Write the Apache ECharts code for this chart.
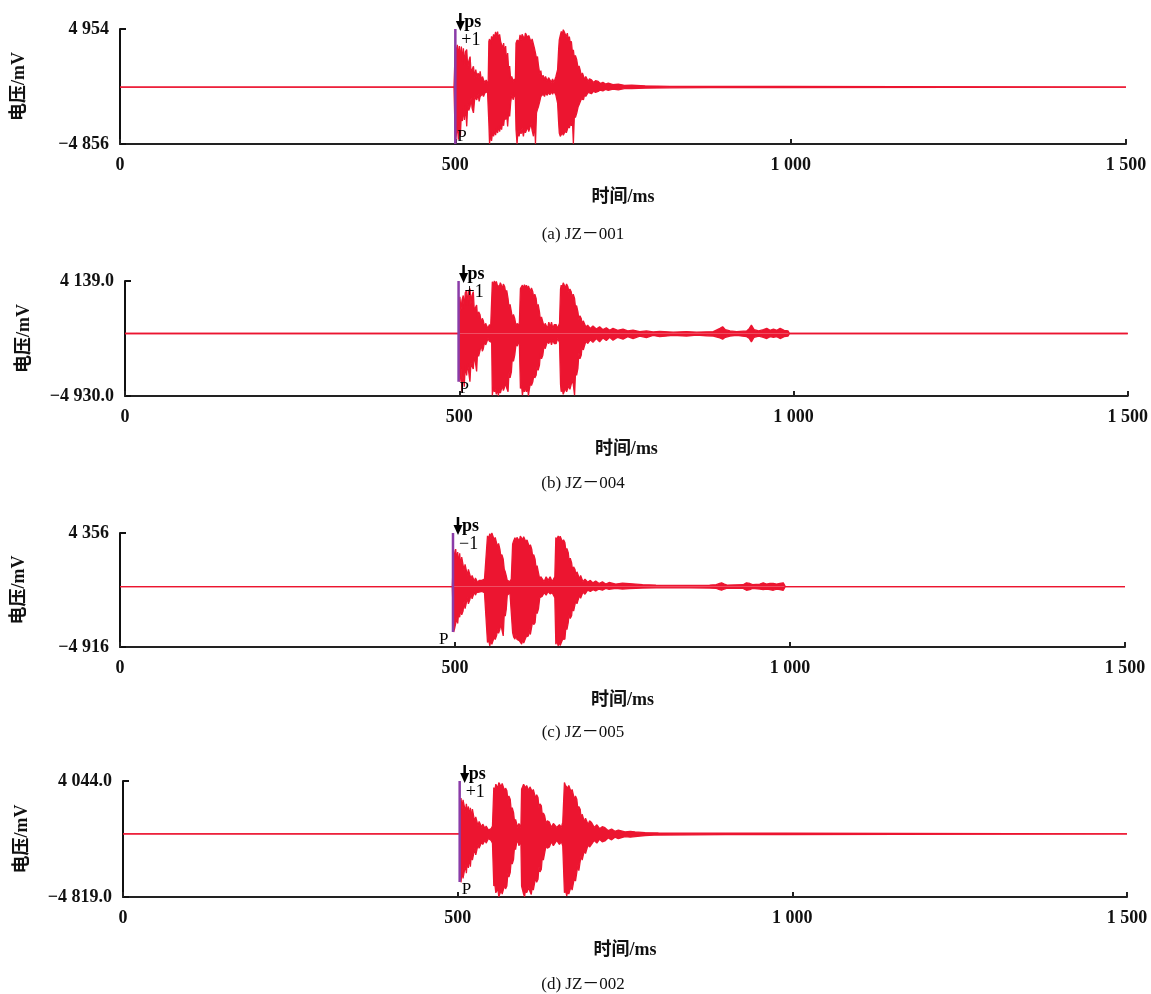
<!DOCTYPE html>
<html><head><meta charset="utf-8">
<script src="https://cdn.jsdelivr.net/npm/echarts@6/dist/echarts.min.js"></script>
<style>html,body{margin:0;padding:0;background:#fff}#c{width:1151px;height:994px}</style>
</head><body><div id="c"></div>
<script>
// ---------- data ----------
const captions = ['(a) JZ－001', '(b) JZ－004', '(c) JZ－005', '(d) JZ－002'];
const yMaxs = [4954, 4139.0, 4356, 4044.0];
const yMins = [-4856, -4930.0, -4916, -4819.0];
const yDecimals = [0, 1, 0, 1];
const pTimes = [500, 499, 497, 503];          // P arrival (ms)
const pLows = [-4856, -3800, -3700, -3670];   // lower end of the P marker (mV)
const psMarks = ['+1', '+1', '−1', '+1'];

// waveform envelopes, rows: [time ms, upper mV, lower mV]
const waveA = [
[0,0,0],[498,0,0],[499.5,0,0],[500,3600,-4830],[501.5,2800,-4830],[503,3600,-3200],[504.5,2600,-4500],[506,3500,-2600],
[507.5,2400,-4200],[509,3450,-2200],[510.5,2200,-2900],[512,3300,-1800],[513.5,1900,-2800],[515,3000,-1600],[517,3200,-3350],
[518.5,1600,-1400],[520,2200,-2000],[522,2600,-1650],[523.5,1200,-900],[525,1500,-1800],[527,1770,-2200],[529,800,-900],
[530.5,1500,-1000],[532,900,-1080],[534,1200,-600],[535.5,700,-1220],[537,1340,-800],[539,500,-700],[540.5,900,-600],
[542,620,-800],[544,400,-500],[546,600,-650],[548,300,-400],[549,500,-500],
[550,3890,-3070],[551,4100,-4830],[552.5,3600,-4000],[554,4320,-4600],[555.5,4000,-3800],[557,4500,-4200],[558.5,4200,-3700],
[560,4700,-4100],[561.5,4300,-3500],[563,4740,-3920],[564.5,4100,-3300],[566,4500,-3800],[567.5,3900,-3300],[569,4030,-3630],
[570.5,3300,-2900],[572,3750,-3300],[573.5,2900,-2500],[575,3500,-2780],[576.5,2000,-2200],[578,2900,-3350],[579.5,1500,-2000],
[581,1800,-2500],[582.5,620,-1360],[584,900,-700],[586.5,480,-1080],[588,700,-500],[589.5,500,-900],
[590.5,3750,-3630],[592,4000,-4830],[593.5,4170,-3700],[595,3900,-4200],[596.5,4460,-3630],[598,4000,-4000],[599.5,4500,-3500],
[601.5,4460,-4200],[603,4100,-3600],[604.5,4600,-3900],[606.5,4600,-3920],[608,4200,-3400],[609.5,4400,-3800],[611.5,4320,-3630],
[613,3800,-3100],[614.5,4100,-3700],[616.5,4030,-4200],[618,3300,-2800],[619.5,2900,-4830],[621,2400,-2200],[622.5,2600,-1900],
[624,1800,-1650],[626,1100,-1200],[627.5,1400,-800],[629,770,-940],[631,1000,-600],[633,600,-800],[634.5,910,-500],[637,500,-700],
[639,800,-450],[641,620,-650],[643,400,-400],[645,700,-600],[647,400,-350],[648.5,480,-510],[650,900,-700],[652.5,1480,-1360],
[654,3200,-3000],[655,4030,-3920],[656.5,4400,-4200],[658,4740,-4350],[659.5,4500,-3900],[661,4900,-4100],[662.5,4700,-3920],
[664,4800,-3700],[665.5,4300,-3900],[667,4600,-3630],[668.5,4000,-3300],[670,4300,-3500],[671.5,3700,-3070],[673,3900,-3300],
[674.5,3000,-2700],[676,3180,-4830],[677.5,2400,-2400],[679,2700,-2600],[681,2330,-2220],[683,1600,-1700],[684.5,1800,-1500],
[686,1480,-1360],[688,900,-1000],[689.5,1200,-1100],[691,1050,-1080],[693,600,-600],[694.5,900,-800],[696,770,-650],[698,500,-450],
[700,700,-600],[703,620,-570],[706,400,-350],[709,550,-450],[713,480,-370],[716,300,-250],[720,400,-320],[724,250,-200],
[728,340,-280],[735,200,-180],[743,260,-230],[752,150,-130],[763,170,-140],[783,110,-90],[820,60,-60],[880,50,-50],[940,50,-50],
[988,60,-50],[990,0,0],[1500,0,0]
];
const waveB = [
[0,0,0],[499,0,0],[500,0,0],[501,2900,-3800],[502.5,1800,-2600],[504,2600,-4600],[506,3000,-3000],[507.5,2000,-4200],[509,3200,-2500],
[511,3400,-3300],[512.5,2200,-2400],[514,3300,-3000],[516,3550,-3800],[517.5,2300,-2300],[519,3000,-2600],[521,3300,-2800],
[522.5,1800,-1800],[524,2000,-2200],[526,2240,-3000],[527.5,1200,-1300],[529,1700,-1800],[531,1500,-1700],[533,800,-900],
[534.5,1200,-1400],[536,1000,-1200],[538,500,-600],[539.5,800,-900],[541,600,-700],[543,400,-400],[545,700,-600],[547,500,-500],
[548.5,600,-700],
[549.5,4080,-4870],[551,3800,-4200],[552.5,4139,-4600],[554,3900,-4400],[555.5,4100,-4800],[557,3800,-4300],[558.5,3950,-4900],
[560,3700,-4400],[561.5,4000,-4700],[563,3810,-4600],[564.5,3500,-4100],[566,3900,-4500],[568,3680,-4210],[569.5,3200,-3900],
[571,3400,-4300],[573,2760,-4600],[574.5,2000,-3000],[576,2300,-3500],[578,1710,-3020],[579.5,1100,-1800],[581,1500,-2200],
[583,1180,-1710],[585,600,-800],[587,800,-1000],[588.5,500,-600],[590,900,-900],
[591.5,3550,-4340],[593,3700,-4000],[594.5,3810,-4870],[596,3500,-4300],[597.5,3850,-4600],[599,3600,-4200],[600.5,3810,-4600],
[602,3500,-4200],[603.5,3750,-4900],[605,3680,-4340],[606.5,3300,-3900],[608,3600,-4100],[610,3290,-3810],[611.5,2800,-3300],
[613,3100,-3500],[615,2760,-3290],[616.5,2000,-2500],[618,2300,-2900],[620,1710,-2500],[621.5,1000,-1500],[623,1300,-2000],
[625,920,-1710],[627,500,-900],[628.5,800,-1200],[630,660,-1180],[632,400,-600],[634,900,-800],[636,500,-500],[638,900,-900],
[640,400,-500],[642,700,-800],[645,700,-800],[647,400,-400],[650,800,-700],
[651.5,3500,-4000],[652.5,3810,-4600],[654,3600,-4300],[655.5,4000,-4800],[657.5,3950,-4730],[659,3600,-4300],[660.5,3900,-4600],
[662.5,3680,-4600],[664,3300,-4100],[665.5,3500,-4400],[667.5,3290,-4340],[669,2800,-3700],[670.5,3100,-4000],[672.5,2760,-4870],
[674,2000,-3000],[675.5,2200,-3300],[677.5,1710,-2760],[679,1100,-1500],[680.5,1400,-2000],[682.5,1180,-1710],[684,700,-900],
[685.5,1000,-1300],[687.5,920,-1180],[689.5,500,-600],[692,660,-790],[696,400,-500],[700,600,-700],[705,350,-400],[710,530,-660],
[715,300,-350],[720,450,-550],[725,250,-300],[730,400,-530],[737,250,-300],[745,350,-450],[752,200,-250],[760,260,-400],
[770,150,-200],[780,200,-320],[790,120,-150],[800,170,-250],[820,100,-150],[840,150,-200],[855,100,-120],[870,130,-180],
[880,150,-200],[890,400,-350],[894,530,-450],[898,300,-300],[905,200,-200],[915,150,-150],[930,200,-250],[934,400,-400],
[937,660,-660],[941,300,-300],[948,200,-200],[955,300,-300],[960,400,-400],[965,250,-250],[970,350,-300],[975,250,-250],
[980,400,-400],[986,250,-250],[992,200,-200],[994,0,0],[1500,0,0]
];
const waveC = [
[0,0,0],[496,0,0],[497,0,0],[498,3000,-3700],[499.5,2200,-3400],[501,3050,-3300],[502.5,2200,-2600],[504,2800,-3000],
[505.5,1800,-2100],[507,2700,-2500],[508.5,1600,-1800],[510,2400,-2300],[512,2400,-2000],[513.5,1300,-1200],[515,1800,-1800],
[517,1700,-1300],[518.5,900,-900],[520,1400,-1400],[522,1400,-1100],[524,600,-600],[525.5,900,-1000],[527,750,-750],[529,400,-400],
[530.5,700,-700],[532,600,-500],[534,300,-350],[536,500,-450],[538,350,-300],[540,500,-400],[542,400,-400],[544,600,-500],[546,500,-500],
[548.5,4120,-4550],[550,3900,-4300],[552,4300,-4820],[553.5,4000,-4300],[555,4356,-4700],[557,4250,-4550],[558.5,3800,-4100],
[560,4000,-4300],[562,3850,-4010],[563.5,3200,-3500],[565,3500,-3800],[567,3040,-3470],[568.5,2400,-3000],[570,2600,-3500],
[572,2220,-4010],[573.5,1400,-2200],[575,1200,-2400],[576.5,870,-1840],[578,500,-700],[580,600,-620],[582,400,-500],[584,600,-600],
[586,3440,-3740],[587.5,3700,-4100],[589.5,3980,-4280],[591,3700,-3900],[592.5,4000,-4300],[594.5,3980,-4150],[596,3700,-4400],
[597.5,4100,-4500],[599.5,4120,-4690],[601,3800,-4300],[602.5,4050,-4600],[604.5,3980,-4550],[606,3600,-4100],[607.5,3800,-4200],
[609.5,3710,-4010],[611,3200,-3500],[612.5,3400,-3900],[614.5,3040,-3740],[616,2400,-2800],[617.5,2600,-3100],[619.5,2220,-2930],
[621,1500,-2000],[622.5,1700,-2200],[624.5,1140,-1840],[626.5,600,-900],[628,800,-1000],[630,700,-800],[633,400,-500],[636,800,-700],
[639,500,-400],[642,800,-600],[645,400,-500],[647,600,-700],[649,800,-900],
[650.5,3980,-4690],[652,3800,-4400],[654,4120,-4820],[655.5,3900,-4500],[657,4100,-4800],[659,3980,-4690],[660.5,3600,-4300],
[662,3800,-4400],[664,3580,-4280],[665.5,2900,-3300],[667,3100,-3500],[669,2760,-2930],[670.5,2000,-2100],[672,2300,-2600],
[674,1950,-2380],[675.5,1300,-1600],[677,1600,-2000],[679,1410,-1840],[680.5,900,-1100],[682,1200,-1400],[684,1140,-1300],
[686,600,-700],[687.5,900,-950],[689,870,-890],[691,400,-450],[694,600,-620],[698,350,-300],[702,500,-400],[706,300,-250],
[710,460,-350],[715,250,-200],[720,380,-300],[725,200,-150],[730,330,-220],[740,200,-150],[750,280,-200],[760,240,-160],
[780,150,-120],[800,120,-100],[850,100,-100],[880,120,-120],[890,150,-150],[895,250,-250],[898,300,-300],[902,200,-200],
[906,120,-120],[930,150,-150],[935,300,-300],[937,400,-450],[940,250,-250],[944,150,-150],[955,200,-200],[960,300,-250],
[965,200,-200],[970,250,-250],[975,250,-300],[980,200,-200],[985,250,-250],[990,300,-300],[993,0,0],[1500,0,0]
];
const waveD = [
[0,0,0],[503,0,0],[504,0,0],[505,2750,-3700],[506.5,1900,-2700],[508,2600,-3400],[510,2600,-3400],[511.5,1700,-2400],[513,2300,-3000],
[514.5,1600,-2000],[516,2100,-2600],[517.5,1300,-1700],[519,2000,-2500],[520.5,1200,-1500],[522,1900,-2000],[524,1900,-2000],
[525.5,900,-1100],[527,1300,-1600],[529,1200,-1500],[530.5,600,-800],[532,950,-1100],[534,950,-1100],[536,500,-600],[537.5,750,-800],
[539,750,-800],[541,400,-450],[542.5,600,-700],[544,500,-600],[546,300,-350],[548,450,-500],[550,400,-500],[552,600,-700],
[554,3540,-3980],[555.5,3300,-3800],[557,3800,-4500],[558.5,3800,-4620],[560,3500,-4200],[561.5,3930,-4790],[563.5,3930,-4790],
[565,3600,-4300],[566.5,3850,-4600],[568.5,3800,-4490],[570,3300,-3900],[571.5,3500,-4200],[573.5,3290,-3980],[575,2600,-3000],
[576.5,2900,-3300],[578.5,2650,-2960],[580,1800,-2000],[581.5,2000,-2300],[583.5,1630,-1940],[585,900,-900],[586.5,1100,-1200],
[588,800,-700],[590,500,-500],[591.5,800,-900],[593,700,-800],[594.5,500,-600],
[595.5,3420,-3980],[597,3600,-4300],[598.5,3800,-4600],[600,3800,-4790],[601.5,3500,-4200],[603,3700,-4500],[605,3670,-4490],
[606.5,3300,-4100],[608,3600,-4400],[610,3540,-4620],[611.5,3200,-4000],[613,3400,-4300],[615,3290,-4240],[616.5,2700,-3300],
[618,3000,-3700],[620,2780,-3470],[621.5,2000,-2500],[623,2300,-2900],[625,2140,-2700],[626.5,1400,-1700],[628,1600,-2000],
[630,1380,-1940],[632,800,-900],[634,1000,-1100],[637,900,-1000],[640,500,-600],[643,800,-900],[645,800,-900],[648,500,-500],
[652,700,-800],[655,500,-600],[657,900,-900],
[659.5,3930,-4490],[661,3700,-4300],[663,3800,-4740],[664.5,3500,-4300],[666,3700,-4600],[668,3670,-4620],[669.5,3200,-4000],
[671,3400,-4300],[673,3290,-4240],[674.5,2600,-3300],[676,2900,-3600],[678,2650,-3470],[679.5,1900,-2400],[681,2100,-2800],
[683,1890,-2700],[684.5,1200,-1600],[686,1500,-2000],[688,1380,-1940],[689.5,900,-1200],[691,1200,-1500],[693,1120,-1430],
[695,700,-800],[697,1000,-1000],[700,870,-790],[704,500,-500],[708,700,-700],[712,400,-400],[716,550,-600],[720,480,-540],
[725,250,-300],[730,380,-450],[735,200,-250],[740,300,-360],[750,150,-200],[758,200,-250],[765,150,-200],[780,100,-120],
[800,70,-80],[900,50,-50],[989,50,-50],[991,0,0],[1500,0,0]
];

// ---------- layout / style ----------
const waves = [waveA, waveB, waveC, waveD];
const grids = [
  {left:120, top:29,  width:1006, height:115},
  {left:125, top:281, width:1004, height:115},
  {left:120, top:533, width:1005, height:114},
  {left:123, top:781, width:1004, height:116}
];
const captionY = [235, 484, 733, 985];
const pLabelDx = [2, 1, -14, 2];
const RED = '#ec1530', PURPLE = '#8a3ca8', INK = '#111';
const SERIF = '"Liberation Serif","Times New Roman","Noto Sans CJK SC",serif';

function fmt(v, dec) {
  const s = Math.abs(v).toFixed(dec);
  const parts = s.split('.');
  const ip = parts[0].replace(/\B(?=(\d{3})+(?!\d))/g, ' ');
  return (v < 0 ? '−' : '') + ip + (parts[1] ? '.' + parts[1] : '');
}

const xAxes = [], yAxes = [], series = [];
waves.forEach((w, i) => {
  xAxes.push({
    gridIndex: i, type: 'value', min: 0, max: 1500, interval: 500,
    axisLine: {onZero: false, lineStyle: {color: '#222', width: 2}},
    axisTick: {inside: true, length: 5, lineStyle: {color: '#222', width: 2}},
    axisLabel: {margin: 12, fontFamily: SERIF, fontWeight: 'bold', fontSize: 18, color: INK,
                formatter: v => fmt(v, 0)},
    splitLine: {show: false},
    name: '时间/ms', nameLocation: 'middle', nameGap: 44,
    nameTextStyle: {fontFamily: SERIF, fontWeight: 'bold', fontSize: 18, color: INK}
  });
  yAxes.push({
    gridIndex: i, type: 'value', min: yMins[i], max: yMaxs[i],
    axisLine: {show: true, onZero: false, lineStyle: {color: '#111', width: 2}},
    axisTick: {show: true, inside: true, length: 6, customValues: [yMins[i], yMaxs[i]],
               lineStyle: {color: '#111', width: 2}},
    axisLabel: {margin: 11, customValues: [yMins[i], yMaxs[i]], fontFamily: SERIF,
                fontWeight: 'bold', fontSize: 18, color: INK,
                formatter: v => fmt(v, yDecimals[i])},
    splitLine: {show: false},
    name: '电压/mV', nameLocation: 'middle', nameRotate: 90, nameGap: 92,
    nameTextStyle: {fontFamily: SERIF, fontWeight: 'bold', fontSize: 18, color: INK}
  });
  series.push({
    type: 'line', xAxisIndex: i, yAxisIndex: i, showSymbol: false, animation: false,
    data: w.map(r => [r[0], r[1]]),
    lineStyle: {color: RED, width: 1.3}, areaStyle: {color: RED, opacity: 1}, z: 2
  });
  series.push({
    type: 'line', xAxisIndex: i, yAxisIndex: i, showSymbol: false, animation: false,
    data: w.map(r => [r[0], r[2]]),
    lineStyle: {color: RED, width: 1.3}, areaStyle: {color: RED, opacity: 1}, z: 2
  });
  series.push({
    type: 'line', xAxisIndex: i, yAxisIndex: i, showSymbol: false, animation: false,
    data: [[pTimes[i], yMaxs[i]], [pTimes[i], pLows[i]]],
    lineStyle: {color: PURPLE, width: 2.5}, z: 5
  });
});

const chart = echarts.init(document.getElementById('c'), null, {renderer: 'canvas'});
chart.setOption({
  backgroundColor: '#fff', animation: false,
  grid: grids, xAxis: xAxes, yAxis: yAxes, series: series
});

const g = [];
for (let i = 0; i < 4; i++) {
  const top = chart.convertToPixel({gridIndex: i}, [pTimes[i], yMaxs[i]]);
  const bot = chart.convertToPixel({gridIndex: i}, [pTimes[i], yMins[i]]);
  const ax = top[0] + 5, ay = top[1];
  g.push({type: 'line', z: 100, shape: {x1: ax, y1: ay - 16, x2: ax, y2: ay - 6},
          style: {stroke: '#000', lineWidth: 2.5}});
  g.push({type: 'polygon', z: 100, shape: {points: [[ax - 4.5, ay - 8], [ax + 4.5, ay - 8], [ax, ay + 2]]},
          style: {fill: '#000'}});
  g.push({type: 'text', z: 100, x: ax + 4, y: ay + 2,
          style: {text: 'ps', fontFamily: SERIF, fontWeight: 'bold', fontSize: 18, fill: '#000', verticalAlign: 'bottom'}});
  g.push({type: 'text', z: 100, x: top[0] + 6, y: ay + 2,
          style: {text: psMarks[i], fontFamily: SERIF, fontSize: 18, fill: '#000', verticalAlign: 'top'}});
  g.push({type: 'text', z: 100, x: bot[0] + pLabelDx[i], y: bot[1] + 1,
          style: {text: 'P', fontFamily: SERIF, fontSize: 17, fill: '#000', verticalAlign: 'bottom'}});
  g.push({type: 'text', z: 100, x: 583, y: captionY[i],
          style: {text: captions[i], fontFamily: SERIF, fontSize: 17, fill: '#111', align: 'center', verticalAlign: 'middle'}});
}
chart.setOption({graphic: g});
</script>
</body></html>
